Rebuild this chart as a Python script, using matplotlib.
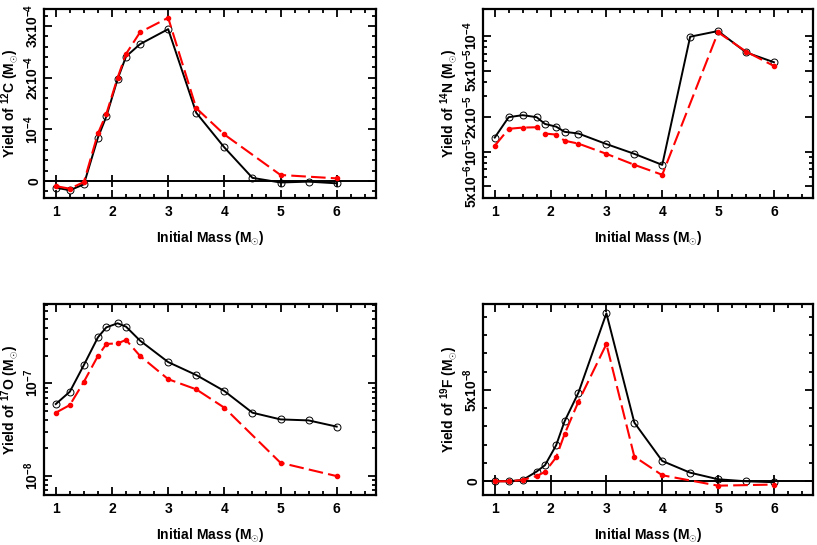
import numpy as np
import matplotlib
matplotlib.use("Agg")
import matplotlib.pyplot as plt
from matplotlib.ticker import MultipleLocator, FixedLocator, FixedFormatter, LogLocator, NullFormatter

plt.rcParams['font.family'] = ['Liberation Sans', 'DejaVu Sans']
plt.rcParams['font.weight'] = 'bold'
plt.rcParams['mathtext.fontset'] = 'custom'
plt.rcParams['mathtext.rm'] = 'Liberation Sans:bold'
plt.rcParams['mathtext.bf'] = 'Liberation Sans:bold'
plt.rcParams['mathtext.default'] = 'bf'

# masses (Msun)
mass_all = [1, 1.25, 1.5, 1.75, 1.9, 2.1, 2.25, 2.5, 3, 3.5, 4, 4.5, 5, 5.5, 6]
mass_red = [1, 1.25, 1.5, 1.75, 1.9, 2.1, 2.25, 2.5, 3, 3.5, 4, 5, 6]
mass_red_n14 = [1, 1.25, 1.5, 1.75, 1.9, 2.1, 2.25, 2.5, 3, 3.5, 4, 5, 5.5, 6]

# 12C yields
c12_black = [-0.13e-4, -0.18e-4, -0.065e-4, 0.84e-4, 1.25e-4, 1.97e-4, 2.41e-4, 2.65e-4,
             2.94e-4, 1.32e-4, 0.65e-4, 0.06e-4, -0.03e-4, -0.013e-4, -0.046e-4]
c12_red = [-0.10e-4, -0.15e-4, -0.02e-4, 0.92e-4, 1.30e-4, 2.00e-4, 2.46e-4, 2.88e-4,
           3.16e-4, 1.41e-4, 0.90e-4, 0.116e-4, 0.05e-4]

# 14N yields
n14_black = [1.32e-5, 1.98e-5, 2.06e-5, 1.98e-5, 1.73e-5, 1.64e-5, 1.48e-5, 1.43e-5,
             1.16e-5, 9.55e-6, 7.67e-6, 9.8e-5, 1.097e-4, 7.18e-5, 5.9e-5]
n14_red = [1.12e-5, 1.57e-5, 1.61e-5, 1.62e-5, 1.43e-5, 1.40e-5, 1.24e-5, 1.17e-5,
           9.55e-6, 7.68e-6, 6.3e-6, 1.07e-4, 7.3e-5, 5.48e-5]

# 17O yields
o17_black = [5.97e-8, 8.12e-8, 1.58e-7, 3.15e-7, 4.04e-7, 4.47e-7, 4.11e-7, 2.90e-7,
             1.70e-7, 1.23e-7, 8.26e-8, 4.81e-8, 4.07e-8, 3.97e-8, 3.40e-8]
o17_red = [4.81e-8, 5.82e-8, 1.04e-7, 1.98e-7, 2.67e-7, 2.71e-7, 2.95e-7, 1.98e-7,
           1.11e-7, 8.61e-8, 5.45e-8, 1.38e-8, 9.9e-9]

# 19F yields
f19_black = [0, 0, 0.07e-8, 0.53e-8, 0.88e-8, 1.97e-8, 3.27e-8, 4.85e-8,
             9.18e-8, 3.21e-8, 1.11e-8, 0.47e-8, 0.11e-8, 0.0, -0.05e-8]
f19_red = [0, 0, 0.07e-8, 0.29e-8, 0.51e-8, 1.31e-8, 2.57e-8, 4.36e-8,
           7.5e-8, 1.35e-8, 0.33e-8, -0.24e-8, -0.18e-8]

x_ticks = [1, 2, 3, 4, 5, 6]

W, H = 817, 545
fig = plt.figure(figsize=(W / 100, H / 100), dpi=100)

FS = 10


def make_axes(l, t, r, b):
    return fig.add_axes([l / W, 1 - b / H, (r - l) / W, (b - t) / H])


def style_axes(ax, ylabel):
    ax.set_xlim(0.79, 6.7)
    ax.xaxis.set_major_locator(FixedLocator(x_ticks))
    ax.xaxis.set_minor_locator(MultipleLocator(0.25))
    ax.tick_params(which='both', direction='in', top=True, right=True, width=1.3,
                   labelsize=FS, colors='black')
    ax.tick_params(which='major', length=6)
    ax.tick_params(which='minor', length=3)
    ax.tick_params(axis='x', pad=5)
    ax.tick_params(axis='y', pad=2)
    for lab in ax.get_yticklabels() + ax.get_xticklabels():
        lab.set_fontweight('bold')
    for lab in ax.get_yticklabels():
        lab.set_rotation(90)
        lab.set_va('center')
    for s in ax.spines.values():
        s.set_linewidth(1.6)
    ax.set_xlabel(r"Initial Mass (M$_{\odot}$)", fontsize=FS, fontweight='bold', labelpad=7)
    ax.set_ylabel(ylabel, fontsize=FS, fontweight='bold', labelpad=1)


def draw(ax, xb, yb, xr, yr):
    ax.plot(xb, yb, '-', color='black', lw=1.4, marker='o', ms=5,
            mfc='none', mec='black', mew=0.7, zorder=3)
    ln, = ax.plot(xr, yr, '-', color='red', lw=1.5, marker='o', ms=3,
                  mfc='red', mec='red', zorder=4)
    ln.set_dashes((7, 2.5))


def zero_line(ax):
    ax.axhline(0, color='black', lw=1.4, zorder=2)
    ax.plot(x_ticks, np.zeros(len(x_ticks)), '|', color='black', ms=8, mew=1.3, zorder=2)


# 12C
ax1 = make_axes(44, 9, 376, 198)
draw(ax1, mass_all, c12_black, mass_red, c12_red)
zero_line(ax1)
ax1.set_ylim(-0.33e-4, 3.33e-4)
ax1.yaxis.set_major_locator(FixedLocator([0, 1e-4, 2e-4, 3e-4]))
ax1.yaxis.set_major_formatter(FixedFormatter(['0', r'10$^{-4}$', r'2x10$^{-4}$', r'3x10$^{-4}$']))
ax1.yaxis.set_minor_locator(MultipleLocator(2e-5))
style_axes(ax1, r"Yield of $^{12}$C (M$_{\odot}$)")

# 14N
ax2 = make_axes(483, 9, 813, 198)
draw(ax2, mass_all, n14_black, mass_red_n14, n14_red)
ax2.set_yscale('log')
ax2.set_ylim(3.97e-6, 1.7e-4)
ax2.yaxis.set_major_locator(FixedLocator([5e-6, 1e-5, 2e-5, 5e-5, 1e-4]))
ax2.yaxis.set_major_formatter(FixedFormatter([r'5x10$^{-6}$', r'10$^{-5}$', r'2x10$^{-5}$',
                                              r'5x10$^{-5}$', r'10$^{-4}$']))
ax2.yaxis.set_minor_locator(LogLocator(base=10, subs=[3, 4, 6, 7, 8, 9]))
ax2.yaxis.set_minor_formatter(NullFormatter())
style_axes(ax2, r"Yield of $^{14}$N (M$_{\odot}$)")

# 17O
ax3 = make_axes(44, 304, 376, 495)
draw(ax3, mass_all, o17_black, mass_red, o17_red)
ax3.set_yscale('log')
ax3.set_ylim(6.18e-9, 7.23e-7)
ax3.yaxis.set_major_locator(FixedLocator([1e-8, 1e-7]))
ax3.yaxis.set_major_formatter(FixedFormatter([r'10$^{-8}$', r'10$^{-7}$']))
ax3.yaxis.set_minor_locator(LogLocator(base=10, subs=[2, 3, 4, 5, 6, 7, 8, 9]))
ax3.yaxis.set_minor_formatter(NullFormatter())
style_axes(ax3, r"Yield of $^{17}$O (M$_{\odot}$)")

# 19F
ax4 = make_axes(483, 304, 813, 495)
draw(ax4, mass_all, f19_black, mass_red, f19_red)
zero_line(ax4)
ax4.set_ylim(-0.75e-8, 9.69e-8)
ax4.yaxis.set_major_locator(FixedLocator([0, 5e-8]))
ax4.yaxis.set_major_formatter(FixedFormatter(['0', r'5x10$^{-8}$']))
ax4.yaxis.set_minor_locator(MultipleLocator(1e-8))
style_axes(ax4, r"Yield of $^{19}$F (M$_{\odot}$)")

fig.savefig("out.png", dpi=100)
